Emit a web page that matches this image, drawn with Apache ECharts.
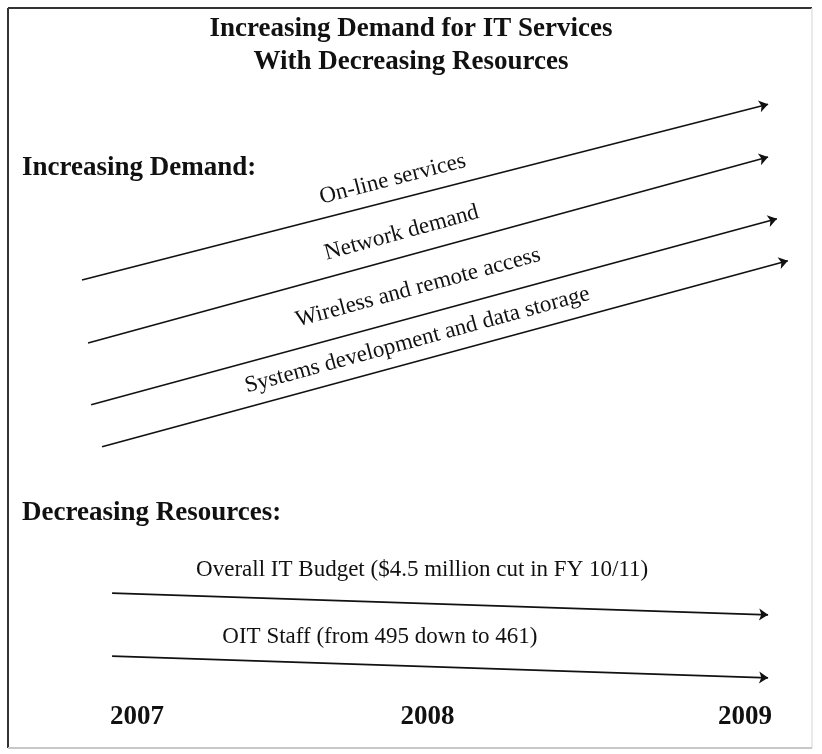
<!DOCTYPE html>
<html>
<head>
<meta charset="utf-8">
<script src="https://cdn.jsdelivr.net/npm/echarts@6/dist/echarts.min.js"></script>
<style>html,body{margin:0;padding:0;background:#fff}#c{width:822px;height:754px}</style>
</head>
<body>
<div id="c"></div>
<script>
// ---- data ----
const yearTicks = [2007, 2008, 2009];
const demandNames = ['On-line services', 'Network demand', 'Wireless and remote access', 'Systems development and data storage'];
const demandStart = [[2006.819, 70.0], [2006.839, 59.5], [2006.849, 49.2], [2006.885, 42.2]];
const demandEnd = [[2009.076, 99.3], [2009.076, 90.5], [2009.105, 80.2], [2009.141, 73.2]];
const resourceNames = ['Overall IT Budget ($4.5 million cut in FY 10/11)', 'OIT Staff (from 495 down to 461)'];
const resourceStart = [[2006.918, 17.8], [2006.918, 7.3]];
const resourceEnd = [[2009.076, 14.2], [2009.076, 3.7]];
const resourceLabelAt = [[2007.938, 21.7], [2007.799, 10.5]];
const demandLabelAlong = [251, 252, 220, 154];
const demandLabelGap = [9, 12, 16, 9];

const SERIF = "'Liberation Serif', 'Times New Roman', serif";
const ink = '#111';

const demandData = demandNames.map((n, i) => ({
  name: n,
  coords: [demandStart[i], demandEnd[i]],
  label: { show: true, position: 'insideStartTop', distance: [demandLabelAlong[i], demandLabelGap[i]] }
}));
const resourceData = resourceNames.map((n, i) => ({ name: n, coords: [resourceStart[i], resourceEnd[i]] }));

const chart = echarts.init(document.getElementById('c'), null, { renderer: 'canvas' });
chart.setOption({
  backgroundColor: '#fff',
  animation: false,
  title: [
    { text: 'Increasing Demand for IT Services\nWith Decreasing Resources', left: 'center', top: 8,
      textStyle: { fontFamily: SERIF, fontWeight: 'bold', fontSize: 27, lineHeight: 33, color: ink } },
    { text: 'Increasing Demand:', left: 17, top: 150,
      textStyle: { fontFamily: SERIF, fontWeight: 'bold', fontSize: 27, color: ink } },
    { text: 'Decreasing Resources:', left: 17, top: 495,
      textStyle: { fontFamily: SERIF, fontWeight: 'bold', fontSize: 27, color: ink } }
  ],
  grid: { left: 76.2, right: 16.2, top: 100, bottom: 54 },
  xAxis: {
    type: 'value', min: 2006.8, max: 2009.2,
    axisLine: { show: false }, axisTick: { show: false }, splitLine: { show: false },
    axisLabel: {
      customValues: yearTicks, margin: 4,
      fontFamily: SERIF, fontWeight: 'bold', fontSize: 27, color: ink,
      formatter: v => (v === 2008 ? '{s|' + v + '}' : '{b|' + v + '}'),
      rich: {
        b: { fontFamily: SERIF, fontWeight: 'bold', fontSize: 27, color: ink },
        s: { fontFamily: SERIF, fontWeight: 'bold', fontSize: 27, color: ink, padding: [0, 27, 0, 0] }
      }
    }
  },
  yAxis: { type: 'value', min: 0, max: 100, show: false },
  graphic: [
    { type: 'line', shape: { x1: 8, y1: 8, x2: 8, y2: 748 }, style: { stroke: '#333', lineWidth: 2 } },
    { type: 'line', shape: { x1: 8, y1: 8, x2: 812, y2: 8 }, style: { stroke: '#333', lineWidth: 2 } },
    { type: 'line', shape: { x1: 812, y1: 8, x2: 812, y2: 748 }, style: { stroke: '#e2e2e2', lineWidth: 1.5 } },
    { type: 'line', shape: { x1: 8, y1: 748, x2: 812, y2: 748 }, style: { stroke: '#c8c8c8', lineWidth: 2 } }
  ],
  series: [
    {
      type: 'lines', coordinateSystem: 'cartesian2d', polyline: false,
      symbol: ['none', 'arrow'], symbolSize: 9,
      lineStyle: { color: ink, width: 1.7, opacity: 1, curveness: 0 },
      label: { fontFamily: SERIF, fontSize: 23, color: '#111', formatter: '{b}' },
      emphasis: { disabled: true },
      data: demandData
    },
    {
      type: 'lines', coordinateSystem: 'cartesian2d', polyline: false,
      symbol: ['none', 'arrow'], symbolSize: 9,
      lineStyle: { color: ink, width: 1.7, opacity: 1, curveness: 0 },
      label: { show: false },
      emphasis: { disabled: true },
      data: resourceData
    },
    {
      type: 'scatter', symbolSize: 0, silent: true,
      itemStyle: { opacity: 1, color: ink },
      emphasis: { disabled: true },
      label: { show: true, position: 'inside', fontFamily: SERIF, fontSize: 23, color: '#111',
        formatter: p => resourceNames[p.dataIndex] },
      data: resourceLabelAt
    }
  ]
});
</script>
</body>
</html>
